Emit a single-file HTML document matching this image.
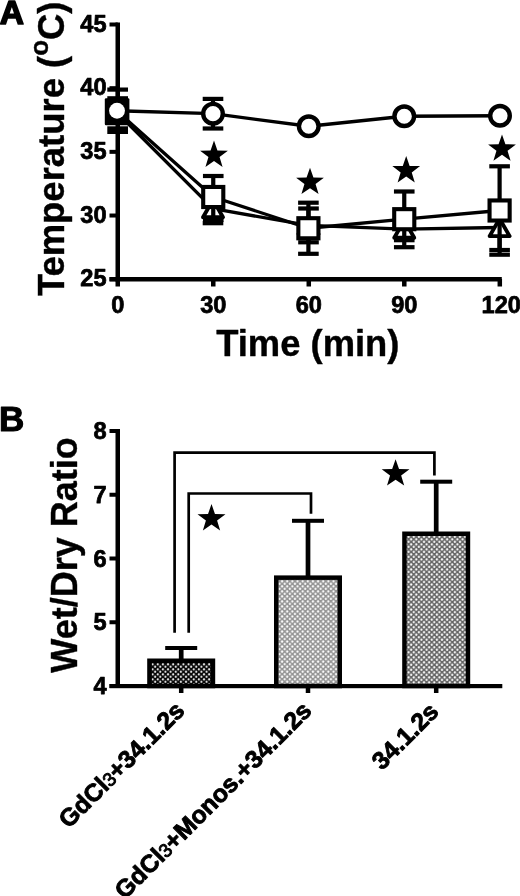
<!DOCTYPE html>
<html><head><meta charset="utf-8"><style>html,body{margin:0;padding:0;background:#fff;width:520px;height:896px;overflow:hidden}svg{display:block;will-change:transform} text{font-family:"Liberation Sans",sans-serif;stroke:#000;stroke-width:1.1px;stroke-linejoin:round} .big{stroke-width:0.4px} .tk{stroke-width:0.75px}</style></head>
<body><svg width="520" height="896" viewBox="0 0 520 896"><defs>
<pattern id="p1" x="150.0" y="663.0" width="5.14" height="5.02" patternUnits="userSpaceOnUse"><rect width="5.14" height="5.02" fill="#080808"/><circle cx="2.6" cy="1.3" r="1.05" fill="#fff"/><circle cx="0.03" cy="3.81" r="1.05" fill="#fff"/><circle cx="5.17" cy="3.81" r="1.05" fill="#fff"/></pattern>
<pattern id="p2" x="279.5" y="580" width="5.14" height="5.02" patternUnits="userSpaceOnUse"><rect width="5.14" height="5.02" fill="#959595"/><circle cx="2.6" cy="1.3" r="1.15" fill="#fff"/><circle cx="0.03" cy="3.81" r="1.15" fill="#fff"/><circle cx="5.17" cy="3.81" r="1.15" fill="#fff"/></pattern>
<pattern id="p3" x="406" y="535.5" width="5.14" height="5.02" patternUnits="userSpaceOnUse"><rect width="5.14" height="5.02" fill="#666666"/><circle cx="2.6" cy="1.3" r="1.15" fill="#fff"/><circle cx="0.03" cy="3.81" r="1.15" fill="#fff"/><circle cx="5.17" cy="3.81" r="1.15" fill="#fff"/></pattern>
</defs>
<text x="-0.3" y="23.8" font-family="Liberation Sans, sans-serif" font-weight="bold" font-size="33.5" style="stroke-width:1.6px">A</text>
<text transform="translate(63.5,148.8) rotate(-90)" text-anchor="middle" font-family="Liberation Sans, sans-serif" class="big" font-weight="bold" font-size="36.45">Temperature (<tspan font-size="26" dy="-15.5">o</tspan><tspan dy="15.5">C)</tspan></text>
<text x="106.6" y="286.20" text-anchor="end" font-family="Liberation Sans, sans-serif" class="tk" font-weight="bold" font-size="23.6">25</text>
<text x="106.6" y="222.52" text-anchor="end" font-family="Liberation Sans, sans-serif" class="tk" font-weight="bold" font-size="23.6">30</text>
<text x="106.6" y="158.85" text-anchor="end" font-family="Liberation Sans, sans-serif" class="tk" font-weight="bold" font-size="23.6">35</text>
<text x="106.6" y="95.17" text-anchor="end" font-family="Liberation Sans, sans-serif" class="tk" font-weight="bold" font-size="23.6">40</text>
<text x="106.6" y="31.50" text-anchor="end" font-family="Liberation Sans, sans-serif" class="tk" font-weight="bold" font-size="23.6">45</text>
<text x="117.75" y="312.8" text-anchor="middle" font-family="Liberation Sans, sans-serif" class="tk" font-weight="bold" font-size="23.6">0</text>
<text x="213.26" y="312.8" text-anchor="middle" font-family="Liberation Sans, sans-serif" class="tk" font-weight="bold" font-size="23.6">30</text>
<text x="308.77" y="312.8" text-anchor="middle" font-family="Liberation Sans, sans-serif" class="tk" font-weight="bold" font-size="23.6">60</text>
<text x="404.29" y="312.8" text-anchor="middle" font-family="Liberation Sans, sans-serif" class="tk" font-weight="bold" font-size="23.6">90</text>
<text x="501.30" y="312.8" text-anchor="middle" font-family="Liberation Sans, sans-serif" class="tk" font-weight="bold" font-size="23.6">120</text>
<text x="307.8" y="356" text-anchor="middle" font-family="Liberation Sans, sans-serif" class="big" font-weight="bold" font-size="36.4">Time (min)</text>
<rect x="115.5" y="22.5" width="4.5" height="259" fill="#000"/>
<rect x="109.5" y="277.2" width="8.25" height="4" fill="#000"/>
<rect x="109.5" y="213.52499999999998" width="8.25" height="4" fill="#000"/>
<rect x="109.5" y="149.85" width="8.25" height="4" fill="#000"/>
<rect x="109.5" y="86.17499999999998" width="8.25" height="4" fill="#000"/>
<rect x="109.5" y="22.5" width="8.25" height="4" fill="#000"/>
<rect x="109.5" y="277" width="392.3" height="4.5" fill="#000"/>
<rect x="115.5" y="279" width="4.5" height="7.5" fill="#000"/>
<rect x="211.0125" y="279" width="4.5" height="7.5" fill="#000"/>
<rect x="306.525" y="279" width="4.5" height="7.5" fill="#000"/>
<rect x="402.0375" y="279" width="4.5" height="7.5" fill="#000"/>
<rect x="497.55" y="279" width="4.5" height="7.5" fill="#000"/>
<polyline points="117.5,113 213,208.7 308.5,225.4 404.25,229.2 499.6,227.5" fill="none" stroke="#000" stroke-width="3.3" stroke-linejoin="round"/>
<rect x="210.9" y="194" width="4.2" height="29.19999999999999" fill="#000"/><rect x="202.7" y="191.9" width="20.6" height="4.2" fill="#000"/><rect x="202.7" y="221.1" width="20.6" height="4.2" fill="#000"/><rect x="306.4" y="208.5" width="4.2" height="33.80000000000001" fill="#000"/><rect x="298.2" y="206.4" width="20.6" height="4.2" fill="#000"/><rect x="298.2" y="240.20000000000002" width="20.6" height="4.2" fill="#000"/><rect x="402.15" y="215" width="4.2" height="25.19999999999999" fill="#000"/><rect x="393.95" y="212.9" width="20.6" height="4.2" fill="#000"/><rect x="393.95" y="238.1" width="20.6" height="4.2" fill="#000"/><rect x="497.5" y="205" width="4.2" height="45" fill="#000"/><rect x="489.3" y="202.9" width="20.6" height="4.2" fill="#000"/><rect x="489.3" y="247.9" width="20.6" height="4.2" fill="#000"/>
<polygon points="213,199.90 223.00,217.30 203.00,217.30" fill="#fff" stroke="#000" stroke-width="3.9" stroke-linejoin="round"/>
<polygon points="308.5,216.60 318.50,234.00 298.50,234.00" fill="#fff" stroke="#000" stroke-width="3.9" stroke-linejoin="round"/>
<polygon points="404.25,220.40 414.25,237.80 394.25,237.80" fill="#fff" stroke="#000" stroke-width="3.9" stroke-linejoin="round"/>
<polygon points="499.6,218.70 509.60,236.10 489.60,236.10" fill="#fff" stroke="#000" stroke-width="3.9" stroke-linejoin="round"/>
<polyline points="117.5,111.5 213.25,197 308.4,228.25 404.25,219.2 499.6,210.5" fill="none" stroke="#000" stroke-width="3.3" stroke-linejoin="round"/>
<rect x="211.15" y="176" width="4.2" height="43.900000000000006" fill="#000"/><rect x="202.95" y="173.9" width="20.6" height="4.2" fill="#000"/><rect x="202.95" y="217.8" width="20.6" height="4.2" fill="#000"/><rect x="306.29999999999995" y="202.7" width="4.2" height="51.10000000000002" fill="#000"/><rect x="298.09999999999997" y="200.6" width="20.6" height="4.2" fill="#000"/><rect x="298.09999999999997" y="251.70000000000002" width="20.6" height="4.2" fill="#000"/><rect x="402.15" y="191.5" width="4.2" height="55.69999999999999" fill="#000"/><rect x="393.95" y="189.4" width="20.6" height="4.2" fill="#000"/><rect x="393.95" y="245.1" width="20.6" height="4.2" fill="#000"/><rect x="497.5" y="166.3" width="4.2" height="88.39999999999998" fill="#000"/><rect x="489.3" y="164.20000000000002" width="20.6" height="4.2" fill="#000"/><rect x="489.3" y="252.6" width="20.6" height="4.2" fill="#000"/>
<rect x="203.20" y="186.95" width="20.10" height="20.10" fill="#fff" stroke="#000" stroke-width="4.1"/>
<rect x="298.35" y="218.20" width="20.10" height="20.10" fill="#fff" stroke="#000" stroke-width="4.1"/>
<rect x="394.20" y="209.15" width="20.10" height="20.10" fill="#fff" stroke="#000" stroke-width="4.1"/>
<rect x="489.55" y="200.45" width="20.10" height="20.10" fill="#fff" stroke="#000" stroke-width="4.1"/>
<polyline points="117.0,110.75 213,113.7 308.75,126.25 404.25,116.25 500,115.75" fill="none" stroke="#000" stroke-width="3.3" stroke-linejoin="round"/>
<rect x="210.9" y="98.9" width="4.2" height="29.599999999999994" fill="#000"/><rect x="202.7" y="96.80000000000001" width="20.6" height="4.2" fill="#000"/><rect x="202.7" y="126.4" width="20.6" height="4.2" fill="#000"/>
<circle cx="213" cy="113.7" r="9.8" fill="#fff" stroke="#000" stroke-width="4.4"/>
<circle cx="308.75" cy="126.25" r="9.8" fill="#fff" stroke="#000" stroke-width="4.4"/>
<circle cx="404.25" cy="116.25" r="9.8" fill="#fff" stroke="#000" stroke-width="4.4"/>
<circle cx="500" cy="115.75" r="9.8" fill="#fff" stroke="#000" stroke-width="4.4"/>
<rect x="115.8" y="88" width="3.9" height="12" fill="#000"/>
<rect x="107.3" y="87.5" width="20.7" height="4.2" fill="#000"/>
<rect x="107.3" y="96.2" width="20.7" height="4" fill="#000"/>
<rect x="104.8" y="98.3" width="24.6" height="26.9" rx="1.2" fill="#000"/>
<rect x="107.3" y="126.3" width="20.7" height="7.7" fill="#000"/>
<circle cx="117" cy="110.75" r="7.95" fill="#fff"/>
<polygon points="214.00,140.60 217.43,150.48 227.89,150.69 219.55,157.00 222.58,167.01 214.00,161.04 205.42,167.01 208.45,157.00 200.11,150.69 210.57,150.48" fill="#000"/>
<polygon points="310.00,167.70 313.43,177.58 323.89,177.79 315.55,184.10 318.58,194.11 310.00,188.14 301.42,194.11 304.45,184.10 296.11,177.79 306.57,177.58" fill="#000"/>
<polygon points="406.20,156.00 409.63,165.88 420.09,166.09 411.75,172.40 414.78,182.41 406.20,176.44 397.62,182.41 400.65,172.40 392.31,166.09 402.77,165.88" fill="#000"/>
<polygon points="502.00,134.40 505.43,144.28 515.89,144.49 507.55,150.80 510.58,160.81 502.00,154.84 493.42,160.81 496.45,150.80 488.11,144.49 498.57,144.28" fill="#000"/>
<text x="-1" y="431" font-family="Liberation Sans, sans-serif" font-weight="bold" font-size="35">B</text>
<text transform="translate(77.0,555.0) rotate(-90)" text-anchor="middle" font-family="Liberation Sans, sans-serif" class="big" font-weight="bold" font-size="36">Wet/Dry Ratio</text>
<text x="106.6" y="694.20" text-anchor="end" font-family="Liberation Sans, sans-serif" class="tk" font-weight="bold" font-size="23.6">4</text>
<text x="106.6" y="630.45" text-anchor="end" font-family="Liberation Sans, sans-serif" class="tk" font-weight="bold" font-size="23.6">5</text>
<text x="106.6" y="566.70" text-anchor="end" font-family="Liberation Sans, sans-serif" class="tk" font-weight="bold" font-size="23.6">6</text>
<text x="106.6" y="502.95" text-anchor="end" font-family="Liberation Sans, sans-serif" class="tk" font-weight="bold" font-size="23.6">7</text>
<text x="106.6" y="439.20" text-anchor="end" font-family="Liberation Sans, sans-serif" class="tk" font-weight="bold" font-size="23.6">8</text>
<rect x="115.5" y="429" width="4.5" height="259" fill="#000"/>
<rect x="109.5" y="684.0" width="8.25" height="4" fill="#000"/>
<rect x="109.5" y="620.25" width="8.25" height="4" fill="#000"/>
<rect x="109.5" y="556.5" width="8.25" height="4" fill="#000"/>
<rect x="109.5" y="492.75" width="8.25" height="4" fill="#000"/>
<rect x="109.5" y="429.0" width="8.25" height="4" fill="#000"/>
<rect x="109.5" y="684" width="392.8" height="4.2" fill="#000"/>
<rect x="178.95" y="686" width="4.5" height="7" fill="#000"/>
<rect x="178.85" y="648" width="4.7" height="11.5" fill="#000"/>
<rect x="165.2" y="646" width="32" height="4" fill="#000"/>
<rect x="149.45" y="660.75" width="63.5" height="25.25" fill="url(#p1)" stroke="#000" stroke-width="4.5"/>
<rect x="305.75" y="686" width="4.5" height="7" fill="#000"/>
<rect x="305.65" y="520.8" width="4.7" height="55.60000000000002" fill="#000"/>
<rect x="292" y="518.8" width="32" height="4" fill="#000"/>
<rect x="276.25" y="577.65" width="63.5" height="108.35000000000002" fill="url(#p2)" stroke="#000" stroke-width="4.5"/>
<rect x="433.95" y="686" width="4.5" height="7" fill="#000"/>
<rect x="433.84999999999997" y="481.7" width="4.7" height="50.80000000000001" fill="#000"/>
<rect x="420.2" y="479.7" width="32" height="4" fill="#000"/>
<rect x="404.45" y="533.75" width="63.5" height="152.25" fill="url(#p3)" stroke="#000" stroke-width="4.5"/>
<polyline points="174.6,632.7 174.6,452.6 434.4,452.6 434.4,475.4" fill="none" stroke="#000" stroke-width="2.7"/>
<polyline points="188.7,632.7 188.7,493.5 311,493.5 311,513.8" fill="none" stroke="#000" stroke-width="2.7"/>
<polygon points="211.50,504.00 214.96,513.94 225.48,514.16 217.09,520.52 220.14,530.59 211.50,524.58 202.86,530.59 205.91,520.52 197.52,514.16 208.04,513.94" fill="#000"/>
<polygon points="395.60,459.20 399.03,469.08 409.49,469.29 401.15,475.60 404.18,485.61 395.60,479.64 387.02,485.61 390.05,475.60 381.71,469.29 392.17,469.08" fill="#000"/>
<text transform="translate(186,712) rotate(-45)" text-anchor="end" font-family="Liberation Sans, sans-serif" font-weight="bold" font-size="24.6" style="stroke-width:0.9px">GdCl<tspan font-weight="normal" font-size="19" stroke-width="0.9">3</tspan>+34.1.2s</text>
<text transform="translate(313,712) rotate(-45)" text-anchor="end" font-family="Liberation Sans, sans-serif" font-weight="bold" font-size="24.6" style="stroke-width:0.9px">GdCl<tspan font-weight="normal" font-size="19" stroke-width="0.9">3</tspan>+Monos.+34.1.2s</text>
<text transform="translate(440,713) rotate(-45)" text-anchor="end" font-family="Liberation Sans, sans-serif" font-weight="bold" font-size="24.6" style="stroke-width:0.9px">34.1.2s</text>
</svg></body></html>
